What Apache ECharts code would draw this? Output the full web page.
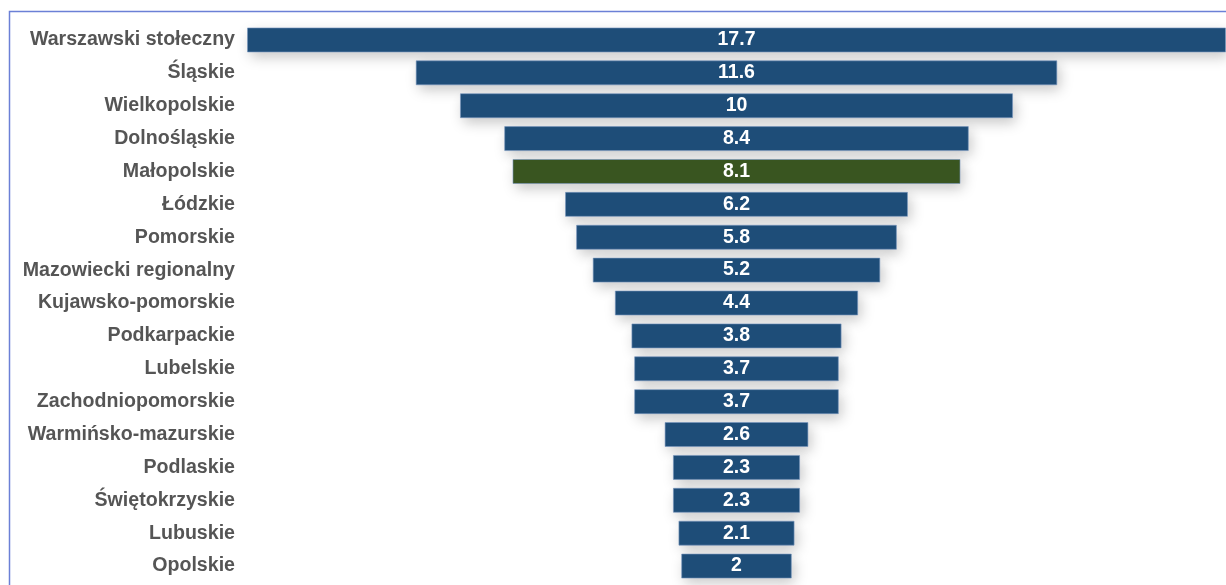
<!DOCTYPE html>
<html>
<head>
<meta charset="utf-8">
<script src="https://cdn.jsdelivr.net/npm/echarts@6/dist/echarts.min.js"></script>
<style>
  html, body { margin: 0; padding: 0; background: #fff; }
  #chart { width: 1226px; height: 585px; }
</style>
</head>
<body>
<div id="chart"></div>
<script>
var regions = [
  'Warszawski stołeczny', 'Śląskie', 'Wielkopolskie', 'Dolnośląskie', 'Małopolskie',
  'Łódzkie', 'Pomorskie', 'Mazowiecki regionalny', 'Kujawsko-pomorskie', 'Podkarpackie',
  'Lubelskie', 'Zachodniopomorskie', 'Warmińsko-mazurskie', 'Podlaskie', 'Świętokrzyskie',
  'Lubuskie', 'Opolskie'
];
var values = [17.7, 11.6, 10, 8.4, 8.1, 6.2, 5.8, 5.2, 4.4, 3.8, 3.7, 3.7, 2.6, 2.3, 2.3, 2.1, 2];
var highlight = 'Małopolskie';

var maxVal = Math.max.apply(null, values);
// transparent spacer so each bar sits centred
var offsets = values.map(function (v) { return (maxVal - v) / 2; });

var chartDom = document.getElementById('chart');
var myChart = echarts.init(chartDom);

var option = {
  animation: false,
  graphic: [{
    type: 'rect',
    shape: { x: 9.5, y: 11.5, width: 1240, height: 600 },
    style: { fill: 'none', stroke: '#6b80d6', lineWidth: 1.5 },
    silent: true,
    z: 0
  }],
  grid: { left: 247, right: 0, top: 23.5, bottom: 2.5 },
  xAxis: {
    type: 'value',
    min: 0,
    max: maxVal,
    show: false
  },
  yAxis: {
    type: 'category',
    data: regions,
    inverse: true,
    axisLine: { show: false },
    axisTick: { show: false },
    axisLabel: {
      margin: 12,
      color: '#555555',
      fontFamily: 'Liberation Sans, Arial, sans-serif',
      fontWeight: 'bold',
      fontSize: 19.6
    }
  },
  series: [{
    type: 'bar',
    stack: 'funnel',
    data: offsets,
    barWidth: 25,
    itemStyle: { color: 'transparent' },
    silent: true
  }, {
    type: 'bar',
    stack: 'funnel',
    barWidth: 25,
    data: values.map(function (v, i) {
      return {
        value: v,
        itemStyle: { color: regions[i] === highlight ? '#3a5621' : '#1f4e79' }
      };
    }),
    itemStyle: {
      borderColor: 'rgba(120,150,190,0.6)',
      borderWidth: 1,
      shadowBlur: 14,
      shadowOffsetX: 3,
      shadowOffsetY: 5,
      shadowColor: 'rgba(0,0,0,0.22)'
    },
    label: {
      show: true,
      position: 'inside',
      color: '#ffffff',
      fontFamily: 'Liberation Sans, Arial, sans-serif',
      fontWeight: 'bold',
      fontSize: 19.5
    }
  }]
};
myChart.setOption(option);
</script>
</body>
</html>
